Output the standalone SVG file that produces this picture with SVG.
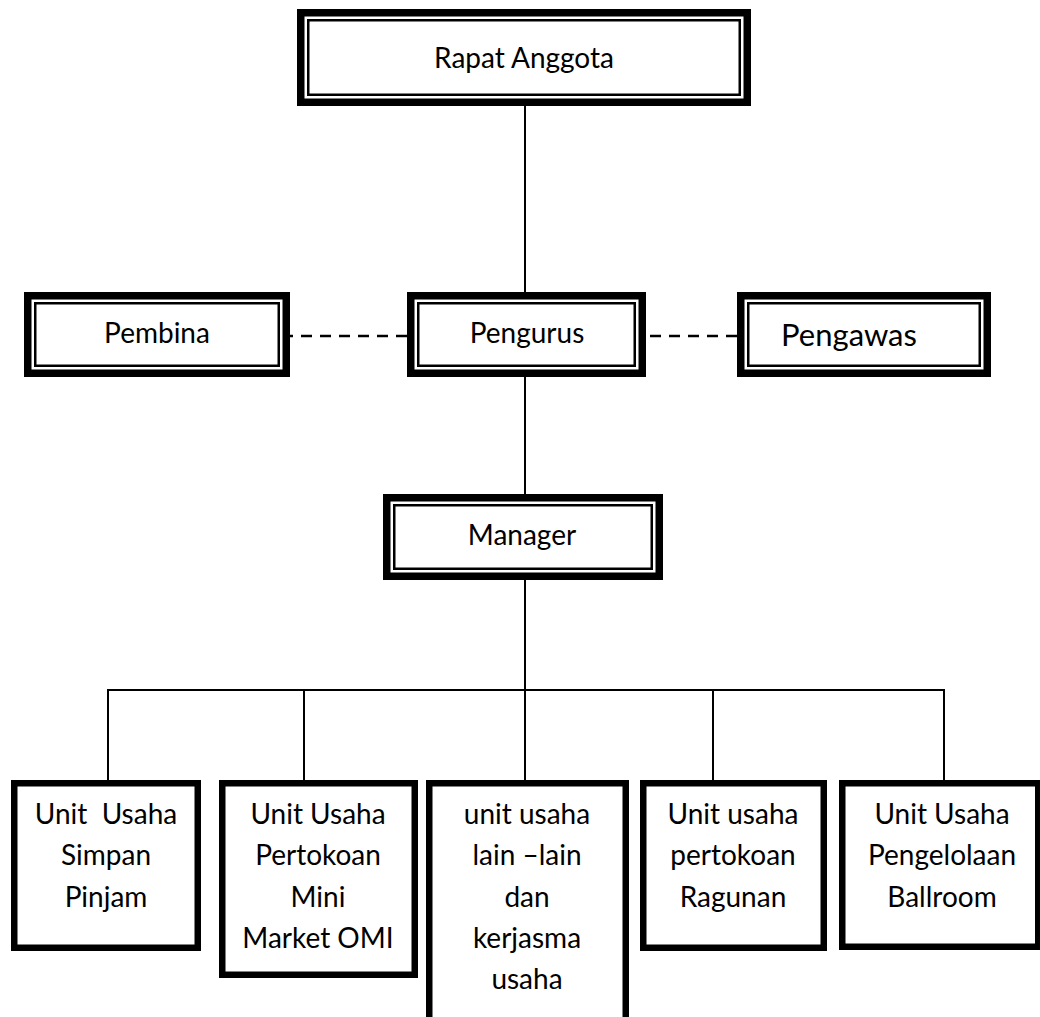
<svg xmlns="http://www.w3.org/2000/svg" width="1040" height="1017" viewBox="0 0 1040 1017">
<style>
.outer{fill:#fff;stroke:#000;stroke-width:7.5}
.inner{fill:none;stroke:#000;stroke-width:2.5}
.unit{fill:#fff;stroke:#000;stroke-width:6.5}
.t{font-family:Lato,"Liberation Sans",sans-serif;font-size:28px;fill:#000;text-anchor:middle;white-space:pre}
.c{stroke:#000;stroke-width:2;fill:none}
.d{stroke:#000;stroke-width:2.5;fill:none;stroke-dasharray:11 8}
</style>
<rect width="1040" height="1017" fill="#fff"/>
<g id="connectors">
<line class="c" x1="525" y1="106" x2="525" y2="292"/>
<line class="c" x1="525" y1="377" x2="525" y2="494"/>
<line class="c" x1="525" y1="580" x2="525" y2="780"/>
<line class="c" x1="108" y1="690" x2="944" y2="690"/>
<line class="c" x1="108" y1="689" x2="108" y2="780"/>
<line class="c" x1="304" y1="690" x2="304" y2="780"/>
<line class="c" x1="713" y1="690" x2="713" y2="780"/>
<line class="c" x1="944" y1="689" x2="944" y2="780"/>
<line class="d" x1="407" y1="336" x2="290" y2="336"/>
<line class="d" x1="737" y1="336" x2="646" y2="336"/>
</g>
<g id="rapat">
<rect class="outer" x="300.75" y="12.75" width="446.5" height="89.5"/>
<rect class="inner" x="308.25" y="20.25" width="431.5" height="74.5"/>
<text class="t" x="524" y="68">Rapat Anggota</text>
</g>
<g id="pembina">
<rect class="outer" x="27.75" y="295.75" width="258.5" height="77.5"/>
<rect class="inner" x="35.25" y="303.25" width="243.5" height="62.5"/>
<text class="t" x="157" y="343">Pembina</text>
</g>
<g id="pengurus">
<rect class="outer" x="410.75" y="295.75" width="231.5" height="77.5"/>
<rect class="inner" x="418.25" y="303.25" width="216.5" height="62.5"/>
<text class="t" x="527" y="343">Pengurus</text>
</g>
<g id="pengawas">
<rect class="outer" x="740.75" y="295.75" width="246.5" height="77.5"/>
<rect class="inner" x="748.25" y="303.25" width="231.5" height="62.5"/>
<text class="t" x="849" y="346" style="font-size:31px">Pengawas</text>
</g>
<g id="manager">
<rect class="outer" x="386.75" y="497.75" width="272.5" height="78.5"/>
<rect class="inner" x="394.25" y="505.25" width="257.5" height="63.5"/>
<text class="t" x="522" y="545">Manager</text>
</g>
<g id="unit1">
<rect class="unit" x="14.25" y="783.25" width="183.5" height="164.5"/>
<text class="t" x="106" y="824">Unit  Usaha</text>
<text class="t" x="106" y="865">Simpan</text>
<text class="t" x="106" y="907">Pinjam</text>
</g>
<g id="unit2">
<rect class="unit" x="222.25" y="783.25" width="192.5" height="191.5"/>
<text class="t" x="318" y="824">Unit Usaha</text>
<text class="t" x="318" y="865">Pertokoan</text>
<text class="t" x="318" y="907">Mini</text>
<text class="t" x="318" y="948">Market OMI</text>
</g>
<g id="unit3">
<rect class="unit" x="429.25" y="783.25" width="196.5" height="260"/>
<text class="t" x="527" y="824">unit usaha</text>
<text class="t" x="527" y="865">lain –lain</text>
<text class="t" x="527" y="907">dan</text>
<text class="t" x="527" y="948">kerjasma</text>
<text class="t" x="527" y="989">usaha</text>
</g>
<g id="unit4">
<rect class="unit" x="643.25" y="783.25" width="180.5" height="164.5"/>
<text class="t" x="733" y="824">Unit usaha</text>
<text class="t" x="733" y="865">pertokoan</text>
<text class="t" x="733" y="907">Ragunan</text>
</g>
<g id="unit5">
<rect class="unit" x="842.25" y="783.25" width="196" height="163.5"/>
<text class="t" x="942" y="824">Unit Usaha</text>
<text class="t" x="942" y="865">Pengelolaan</text>
<text class="t" x="942" y="907">Ballroom</text>
</g>
</svg>
